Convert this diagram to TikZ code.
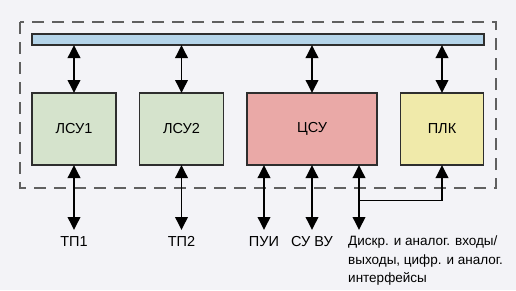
\documentclass[tikz,border=0pt]{standalone}
\usepackage{fontspec}
\setmainfont{Liberation Sans}
\usetikzlibrary{arrows.meta, positioning, calc}

\definecolor{fon}{HTML}{F3F3F7}
\definecolor{shina}{HTML}{B4D4E9}
\definecolor{lokal}{HTML}{D5E3CC}
\definecolor{centr}{HTML}{EAA9A7}
\definecolor{kontr}{HTML}{F0EAAA}
\definecolor{ramka}{HTML}{2E2E2E}

\begin{document}
\begin{tikzpicture}[
        x=1pt, y=-1pt,
        node distance=23.5pt,
        blok/.style={draw=ramka, line width=1.6pt, minimum height=72pt, outer sep=0pt, font=\fontsize{14.5}{16}\selectfont},
        metka/.style={inner sep=6pt, font=\fontsize{14.5}{16}\selectfont},
        strelka/.style={{Triangle[length=13pt, width=12.5pt]}-{Triangle[length=13pt, width=12.5pt]}, line width=1.9pt},
        strelka1/.style={-{Triangle[length=13pt, width=12.5pt]}, line width=1.9pt}
    ]
        % fon i granicy
        \fill[fon] (0,0) rectangle (516,290);
        \draw[gray!75!black, line width=1.2pt, dash pattern=on 12pt off 8pt] (20,22) rectangle (496,188);
        % shina
        \node[draw=ramka, line width=1.6pt, fill=shina, minimum width=452pt, minimum height=11pt, inner sep=0pt, outer sep=0pt, anchor=north west] (bus) at (32,34) {};
        % bloki
        \node[blok, fill=lokal, minimum width=84pt, anchor=north west] (lsu1) at (32,93) {ЛСУ1};
        \node[blok, fill=lokal, minimum width=84pt, right=of lsu1] (lsu2) {ЛСУ2};
        \node[blok, fill=centr, minimum width=130pt, right=of lsu2] (csu) {ЦСУ};
        \node[blok, fill=kontr, minimum width=83pt, right=of csu] (plk) {ПЛК};
        % podpisi
        \node[metka, anchor=north] (tp1) at (lsu1.south |- 0,230) {ТП1};
        \node[metka, anchor=north] (tp2) at (lsu2.south |- 0,230) {ТП2};
        \node[metka, anchor=north] (pui) at (264,230) {ПУИ};
        \node[metka, anchor=north] (suvu) at (312,230) {СУ ВУ};
        \node[metka, inner sep=4pt, anchor=north west, align=left, font=\fontsize{13.5}{18.5}\selectfont] (dio) at (344,232) {Дискр. и аналог. входы/\\выходы, цифр. и аналог.\\интерфейсы};
        \coordinate (vhod) at (359,230);
        \coordinate (razv) at (359,200.5);
        % svyazi
        \draw[strelka] (lsu1.north) -- (lsu1.north |- bus.south);
        \draw[strelka] (lsu2.north) -- (lsu2.north |- bus.south);
        \draw[strelka] (csu.north) -- (csu.north |- bus.south);
        \draw[strelka] (plk.north) -- (plk.north |- bus.south);
        \draw[strelka] (lsu1.south) -- (tp1.north);
        \draw[strelka] (lsu2.south) -- (tp2.north);
        \draw[strelka] (pui.north |- csu.south) -- (pui.north);
        \draw[strelka] (suvu.north |- csu.south) -- (suvu.north);
        \draw[strelka] (vhod |- csu.south) -- (vhod);
        \draw[strelka1] (razv) -| (plk.south);
    \end{tikzpicture}
\end{document}
